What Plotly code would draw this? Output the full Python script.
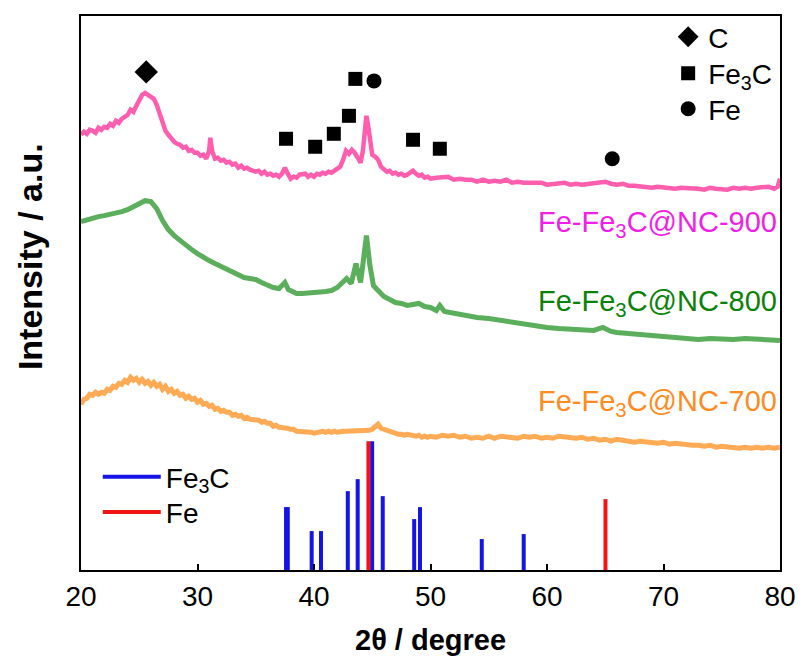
import plotly.graph_objects as go

# ---- XRD patterns: (2-theta in degrees, offset intensity in arbitrary units) ----
pattern_900 = [
    (20, 436), (20.25, 439), (20.5, 437), (20.75, 441), (21, 440), (21.25, 438), (21.5, 443),
    (21.75, 441), (22, 444), (22.25, 443), (22.5, 447), (22.75, 445), (23, 450), (23.25, 448),
    (23.5, 452), (23.75, 454), (24, 456), (24.25, 461), (24.5, 459), (24.75, 465), (25, 470),
    (25.25, 476), (25.5, 478), (25.75, 476), (26, 474), (26.25, 472), (26.5, 466), (26.75, 457),
    (27, 447), (27.25, 440), (27.5, 436), (27.75, 432), (28, 429), (28.25, 427), (28.5, 426),
    (28.75, 423), (29, 424), (29.25, 420), (29.5, 421), (29.75, 418), (30, 418), (30.25, 415),
    (30.5, 416), (30.75, 412), (31.0, 420), (31.1, 433), (31.25, 420), (31.5, 412), (31.75, 413),
    (32, 410), (32.25, 411), (32.5, 408), (32.75, 409), (33, 406), (33.25, 407), (33.5, 403),
    (33.75, 405), (34, 402), (34.25, 403), (34.5, 401), (34.75, 400), (35, 399), (35.25, 400),
    (35.5, 397), (35.75, 399), (36, 396), (36.25, 397), (36.5, 395), (36.75, 396), (37, 394),
    (37.25, 397), (37.5, 403), (37.75, 397), (38, 392), (38.25, 394), (38.5, 393), (38.75, 396),
    (39, 396), (39.25, 397), (39.5, 394), (39.75, 396), (40, 394), (40.25, 397), (40.5, 396),
    (40.75, 398), (41, 397), (41.25, 399), (41.5, 398), (41.75, 400), (42, 401), (42.25, 404),
    (42.5, 411), (42.75, 420), (43, 417), (43.25, 421), (43.5, 418), (43.75, 413), (44.0, 408),
    (44.2, 420), (44.4, 448), (44.5, 455), (44.65, 445), (44.8, 428), (45.0, 416), (45.25, 414),
    (45.5, 411), (45.75, 404), (46, 401), (46.25, 399), (46.5, 400), (46.75, 397), (47, 398),
    (47.25, 396), (47.5, 397), (47.75, 395), (48, 396), (48.25, 398), (48.5, 400), (48.75, 397),
    (49, 395), (49.25, 396), (49.5, 393), (49.75, 394), (50, 392), (50.5, 393), (51, 393),
    (51.5, 394), (52, 391), (52.5, 392), (53, 391), (53.5, 391), (54, 389), (54.5, 391),
    (55, 389), (55.5, 390), (56, 389), (56.5, 391), (57, 388), (57.5, 389), (58, 388),
    (58.5, 388), (59, 387), (59.5, 388), (60, 386), (60.5, 387), (61, 387), (61.5, 388),
    (62, 386), (62.5, 387), (63, 386), (63.5, 387), (64, 387), (64.5, 388), (65, 389),
    (65.5, 387), (66, 386), (66.5, 387), (67, 385), (67.5, 385), (68, 384), (68.5, 384),
    (69, 383), (69.5, 384), (70, 383), (70.5, 383), (71, 382), (71.5, 383), (72, 383),
    (72.5, 382), (73, 382), (73.5, 381), (74, 383), (74.5, 382), (75, 382), (75.5, 381),
    (76, 383), (76.5, 382), (77, 383), (77.5, 382), (78, 383), (78.5, 383), (79, 384),
    (79.5, 382), (79.8, 384), (80, 392),
]

pattern_800 = [
    (20, 349), (20.5, 351), (21, 352), (21.5, 354), (22, 355), (22.5, 356), (23, 358),
    (23.5, 359), (24, 361), (24.5, 364), (25, 368), (25.5, 370), (26, 369), (26.5, 362),
    (27, 350), (27.5, 341), (28, 335), (28.5, 330), (29, 325), (29.5, 321), (30, 317),
    (30.5, 313), (31, 310), (31.5, 307), (32, 304), (32.5, 301), (33, 298), (33.5, 295),
    (34, 293), (34.5, 292), (35, 291), (35.5, 288), (36, 285), (36.5, 283), (37, 282),
    (37.5, 288), (37.8, 281), (38.2, 278), (38.5, 277), (39, 277), (39.5, 278), (40, 278),
    (41, 279), (41.5, 280), (42, 283), (42.5, 288), (42.8, 292), (43.2, 287), (43.6, 307),
    (44.0, 288), (44.5, 335), (44.8, 305), (45.1, 285), (45.5, 280), (46, 274), (46.5, 271),
    (47, 268), (47.5, 267), (48, 265), (48.5, 266), (49, 267), (49.5, 264), (50, 263),
    (50.5, 260), (50.8, 265), (51.2, 259), (52, 257), (53, 255), (54, 253), (55, 252),
    (56, 250), (57, 248), (58, 247), (59, 245), (60, 243), (61, 242), (62, 241), (63, 240),
    (64, 240), (64.8, 243), (65.5, 239), (66, 238), (67, 237), (68, 235), (69, 234),
    (70, 233), (71, 233), (72, 232), (73, 231), (74, 232), (75, 231), (76, 231), (77, 232),
    (78, 231), (79, 231), (80, 230),
]

pattern_700 = [
    (20, 166), (20.25, 171), (20.5, 172), (20.75, 176), (21, 175), (21.25, 178), (21.5, 176),
    (21.75, 178), (22, 177), (22.25, 181), (22.5, 180), (22.75, 184), (23, 183), (23.25, 187),
    (23.5, 186), (23.75, 190), (24, 188), (24.25, 193), (24.5, 190), (24.75, 192), (25, 188),
    (25.25, 191), (25.5, 187), (25.75, 189), (26, 185), (26.25, 188), (26.5, 184), (26.75, 186),
    (27, 181), (27.25, 184), (27.5, 179), (27.75, 181), (28, 177), (28.25, 179), (28.5, 175),
    (28.75, 176), (29, 172), (29.25, 174), (29.5, 171), (29.75, 172), (30, 168), (30.25, 170),
    (30.5, 166), (30.75, 167), (31, 164), (31.25, 165), (31.5, 161), (31.75, 162), (32, 159),
    (32.25, 160), (32.5, 158), (32.75, 158), (33, 155), (33.25, 156), (33.5, 154), (33.75, 155),
    (34, 152), (34.25, 153), (34.5, 151), (34.75, 151), (35, 150), (35.25, 150), (35.5, 148),
    (35.75, 149), (36, 147), (36.25, 147), (36.5, 144), (36.75, 145), (37, 143), (37.25, 143),
    (37.5, 142), (37.75, 142), (38, 141), (38.25, 141), (38.5, 139), (38.75, 139), (39, 139),
    (39.25, 138), (39.5, 138), (39.75, 138), (40, 137), (40.25, 138), (40.5, 139), (40.75, 139),
    (41, 138), (41.25, 139), (41.5, 138), (41.75, 139), (42, 138), (42.25, 139), (42.5, 139),
    (42.75, 139), (43, 139), (43.25, 140), (43.5, 139), (43.75, 140), (44, 140), (44.25, 140),
    (44.5, 139), (44.75, 140), (45, 141), (45.25, 143), (45.5, 146), (45.75, 142), (46, 141),
    (46.25, 139), (46.5, 139), (46.75, 137), (47, 137), (47.25, 136), (47.5, 136), (47.75, 135),
    (48, 136), (48.25, 135), (48.5, 135), (48.75, 134), (49, 135), (49.25, 133), (49.5, 134),
    (49.75, 133), (50, 134), (50.5, 133), (51, 135), (51.5, 134), (52, 135), (52.5, 133),
    (53, 134), (53.5, 132), (54, 133), (54.5, 132), (55, 134), (55.5, 132), (56, 134),
    (56.5, 133), (57, 133), (57.5, 132), (58, 134), (58.5, 133), (59, 134), (59.5, 132),
    (60, 133), (60.5, 132), (61, 134), (61.5, 133), (62, 133), (62.5, 132), (63, 133),
    (63.5, 131), (64, 132), (64.5, 130), (65, 131), (65.5, 129), (66, 131), (66.5, 130),
    (67, 130), (67.5, 128), (68, 129), (68.5, 128), (69, 128), (69.5, 127), (70, 128),
    (70.5, 126), (71, 127), (71.5, 126), (72, 126), (72.5, 125), (73, 125), (73.5, 124),
    (74, 125), (74.5, 123), (75, 124), (75.5, 123), (76, 123), (76.5, 122), (77, 123),
    (77.5, 122), (78, 123), (78.5, 122), (79, 123), (79.5, 122), (80, 123),
]

# ---- Reference stick patterns (position, relative height) ----
fe3c_pos = [37.6, 37.75, 39.8, 40.6, 42.9, 43.75, 44.99, 45.9, 48.6, 49.1, 54.4, 58.0]
fe3c_h = [63, 63, 39, 39, 79, 91, 129, 74, 51, 63, 31, 36]
fe_pos = [44.67, 65.02]
fe_h = [129, 71]

# ---- Phase markers above the 900 pattern ----
c_mark_x = [25.6]
c_mark_y = [499]
fe3c_mark_x = [37.6, 40.1, 41.7, 43.0, 43.55, 48.5, 50.8]
fe3c_mark_y = [432, 424, 437, 455, 492, 431, 422]
fe_mark_x = [45.15, 65.6]
fe_mark_y = [490, 412]

FONT = "Liberation Sans, Arial, sans-serif"
FS = 29


def sticks(pos, h):
    xs, ys = [], []
    for p, v in zip(pos, h):
        xs += [p, p, None]
        ys += [0, v, None]
    return xs, ys


fig = go.Figure()

patterns = [
    (pattern_900, "#FF5EAE", 4.5),
    (pattern_800, "#5BAE5B", 5),
    (pattern_700, "#FFAA55", 5),
]
for data, col, w in patterns:
    xs = [p[0] for p in data]
    ys = [p[1] for p in data]
    fig.add_trace(go.Scatter(x=xs, y=ys, mode="lines", showlegend=False,
                             line=dict(color=col, width=w), hoverinfo="skip"))

sx, sy = sticks(fe3c_pos, fe3c_h)
fig.add_trace(go.Scatter(x=sx, y=sy, mode="lines", name="Fe<sub>3</sub>C",
                         line=dict(color="#1414E6", width=4), legend="legend"))
sx, sy = sticks(fe_pos, fe_h)
fig.add_trace(go.Scatter(x=sx, y=sy, mode="lines", name="Fe",
                         line=dict(color="#F01414", width=4), legend="legend3"))

fig.add_trace(go.Scatter(x=c_mark_x, y=c_mark_y, mode="markers", name="C",
                         marker=dict(symbol="diamond", size=18, color="black"), legend="legend2"))
fig.add_trace(go.Scatter(x=fe3c_mark_x, y=fe3c_mark_y, mode="markers", name="Fe<sub>3</sub>C",
                         marker=dict(symbol="square", size=14, color="black"), legend="legend4"))
fig.add_trace(go.Scatter(x=fe_mark_x, y=fe_mark_y, mode="markers", name="Fe",
                         marker=dict(symbol="circle", size=15, color="black"), legend="legend5"))

labels = [
    ("Fe-Fe<sub>3</sub>C@NC-900", 347, "#F01EE6"),
    ("Fe-Fe<sub>3</sub>C@NC-800", 267, "#0A820A"),
    ("Fe-Fe<sub>3</sub>C@NC-700", 167, "#FF8A1E"),
]
annotations = []
for txt, yv, col in labels:
    annotations.append(dict(x=79.9, y=yv, xref="x", yref="y", text=txt, showarrow=False,
                            xanchor="right", yanchor="middle",
                            font=dict(family=FONT, size=FS, color=col)))

annotations.append(dict(x=0.5, y=-0.126, xref="paper", yref="paper", text="<b>2θ / degree</b>",
                        showarrow=False, xanchor="center", yanchor="middle",
                        font=dict(family=FONT, size=FS, color="black")))
annotations.append(dict(x=-0.072, y=0.566, xref="paper", yref="paper",
                        text="<b>Intensity / a.u.</b>", textangle=-90, showarrow=False,
                        xanchor="center", yanchor="middle",
                        font=dict(family=FONT, size=34, color="black")))


def small_legend(x, y, width=None):
    d = dict(x=x, y=y, xanchor="left", yanchor="middle", bgcolor="rgba(0,0,0,0)",
             font=dict(family=FONT, size=FS - 1), tracegroupgap=0)
    if width:
        d["itemwidth"] = width
    return d


fig.update_layout(
    width=808, height=657,
    margin=dict(l=81, r=17, t=15, b=87),
    paper_bgcolor="white", plot_bgcolor="white",
    font=dict(family=FONT, size=FS, color="black"),
    annotations=annotations,
    legend=small_legend(0.024, 0.168, 58),
    legend3=small_legend(0.024, 0.104, 58),
    legend2=small_legend(0.84, 0.962),
    legend4=small_legend(0.84, 0.896),
    legend5=small_legend(0.84, 0.832),
    xaxis=dict(range=[20, 80], tickmode="array", tickvals=[20, 30, 40, 50, 60, 70, 80],
               ticks="inside", ticklen=6, tickwidth=2, tickcolor="black",
               showline=True, linecolor="black", linewidth=2, mirror=True,
               showgrid=False, zeroline=False, tickfont=dict(family=FONT, size=FS - 1)),
    yaxis=dict(range=[0, 555], showticklabels=False, ticks="",
               showline=True, linecolor="black", linewidth=2, mirror=True,
               showgrid=False, zeroline=False),
)

fig.write_html("out.html")
